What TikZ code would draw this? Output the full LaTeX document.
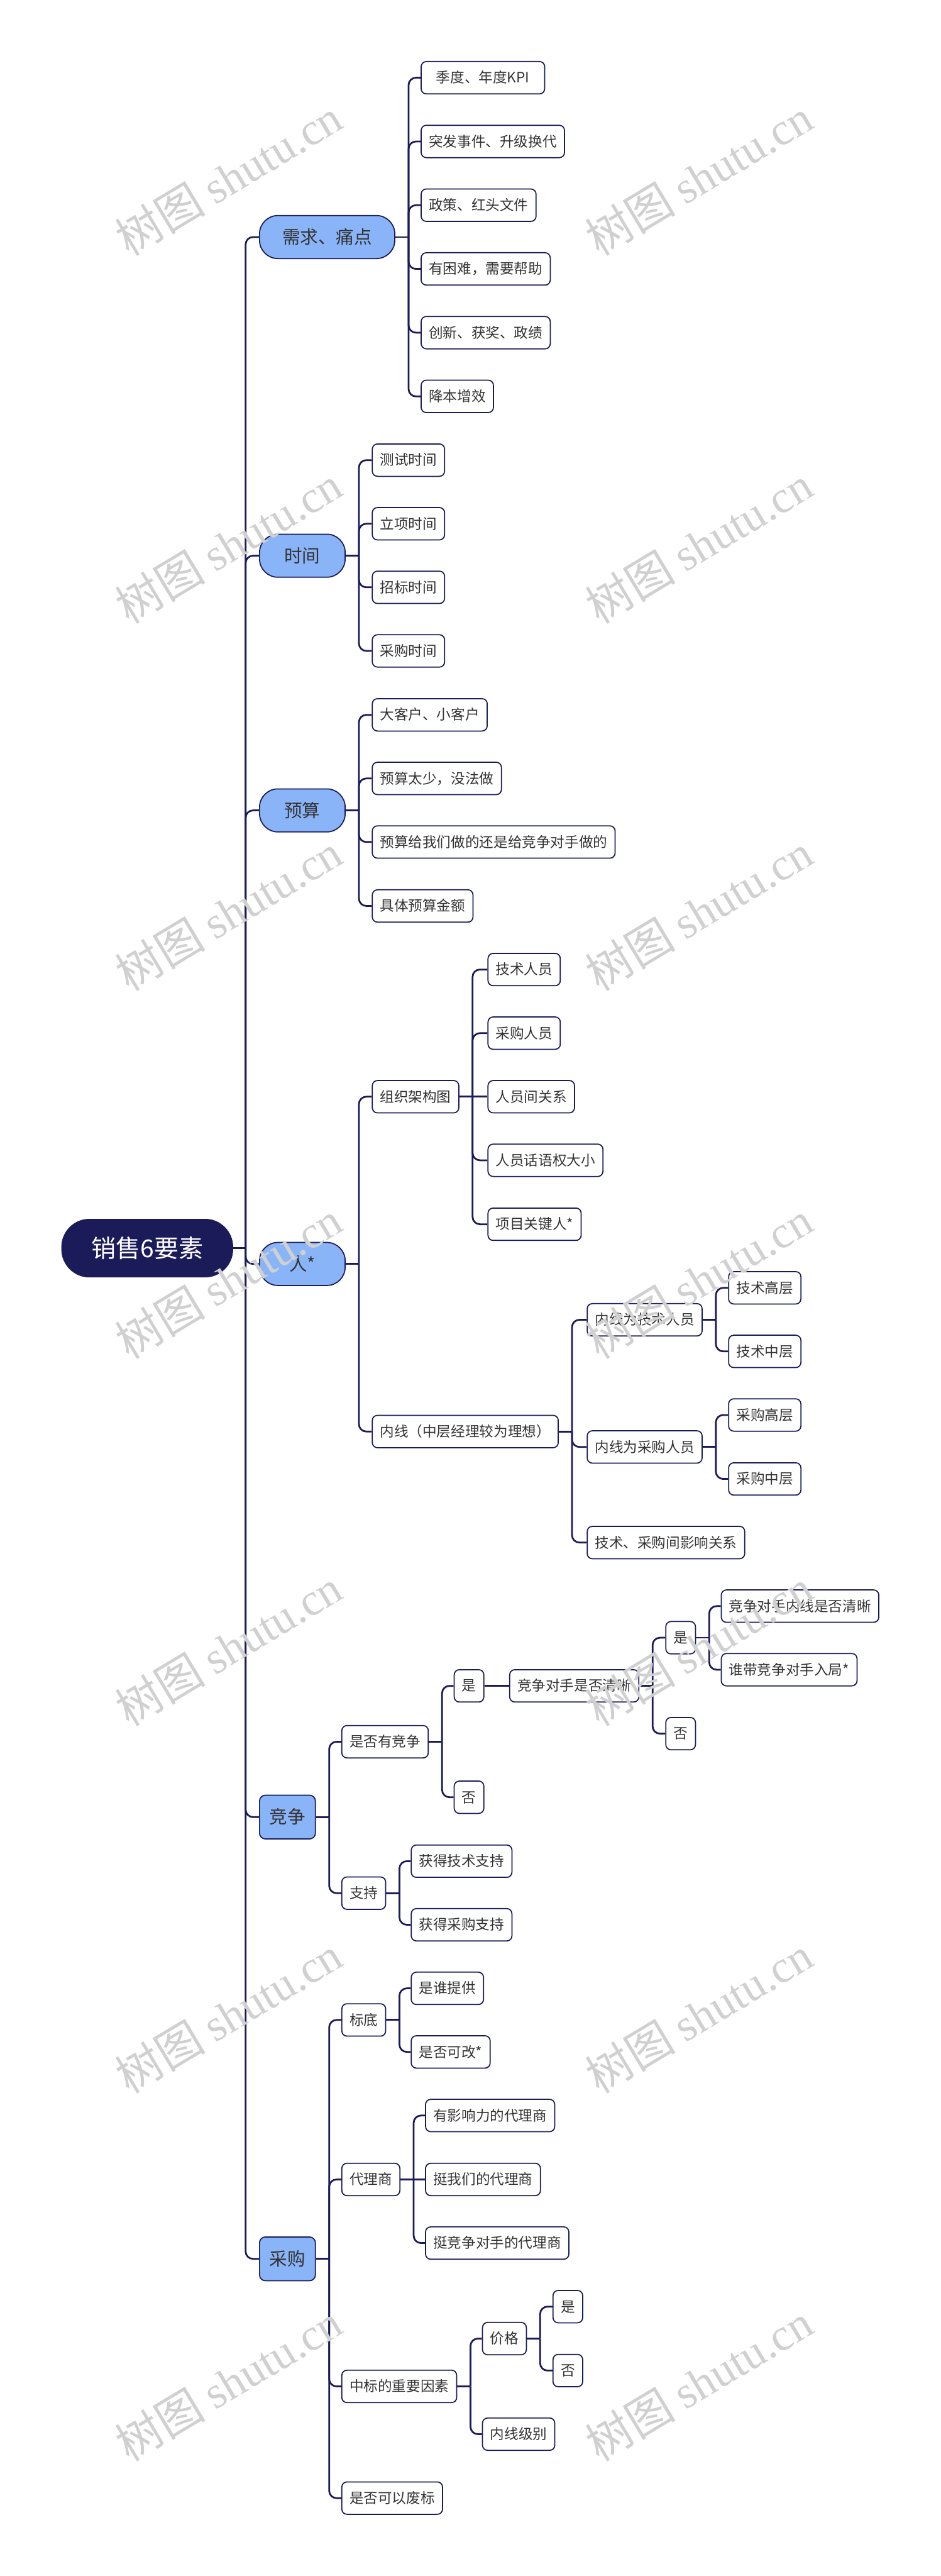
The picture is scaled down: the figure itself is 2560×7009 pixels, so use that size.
\documentclass[tikz,border=0pt]{standalone}
\usepackage{fontspec}
\setmainfont{Noto Sans CJK SC}
\newfontfamily\wmlatin{Liberation Serif}
\usetikzlibrary{calc}
\definecolor{navy}{RGB}{27,27,89}
\definecolor{lblue}{RGB}{138,180,248}
\definecolor{txt}{RGB}{51,51,51}
\definecolor{wm}{RGB}{208,208,208}
\tikzset{
  conn/.style={draw=navy, line width=1.34pt, rounded corners=0.2cm},
  basebox/.style={draw=navy, line width=0.85pt, text=txt, anchor=west, inner sep=0pt},
  leaf/.style={basebox, fill=white, rounded corners=0.14cm, minimum height=0.88cm,
    inner xsep=0.21cm, text height=9pt, text depth=0.9pt, font=\fontsize{11}{13}\selectfont},
  topic/.style={basebox, fill=lblue, rounded corners=0.5cm, minimum height=1.17cm,
    text height=11.4pt, text depth=1.1pt, font=\fontsize{13.9}{16}\selectfont},
  topicbox/.style={basebox, fill=lblue, rounded corners=0.16cm, minimum height=1.19cm,
    minimum width=1.52cm, text height=11.4pt, text depth=1.1pt, font=\fontsize{13.9}{16}\selectfont},
  rootnode/.style={fill=navy, draw=navy, text=white, rounded corners=0.76cm,
    minimum height=1.58cm, minimum width=4.66cm, anchor=west, inner sep=0pt,
    text height=15.6pt, text depth=1.5pt, font=\fontsize{19}{22}\selectfont},
  wmark/.style={text=wm, anchor=base west, rotate=31, inner sep=0pt, font=\fontsize{35}{40}\selectfont},
}
\newcommand\branch[2]{%
  \draw[conn] (#1.east) -- ++(36,0) coordinate (#1j);
  \foreach \c in {#2} {\draw[conn] (#1j) |- (\c.west);}
}
\begin{document}
\begin{tikzpicture}[x=0.01cm, y=-0.01cm]
\fill[white] (0,0) rectangle (2560,7009);
\useasboundingbox (0,0) rectangle (2560,7009);

% root
\node[rootnode] (root) at (167,3396) {销售6要素};

% main topics
\node[topic, minimum width=3.68cm] (xq) at (705,645) {需求、痛点};
\node[topic, minimum width=2.33cm] (sj) at (705,1512) {时间};
\node[topic, minimum width=2.33cm] (ys) at (705,2205) {预算};
\node[topic, minimum width=2.33cm] (ren) at (705,3439) {人*};
\node[topicbox] (jz) at (705,4944) {竞争};
\node[topicbox] (cg) at (705,6146) {采购};

% 需求、痛点
\node[leaf, minimum width=3.36cm] (xq1) at (1145,211.5) {季度、年度KPI};
\node[leaf] (xq2) at (1145,384.9) {突发事件、升级换代};
\node[leaf] (xq3) at (1145,558.3) {政策、红头文件};
\node[leaf] (xq4) at (1145,731.7) {有困难，需要帮助};
\node[leaf] (xq5) at (1145,905.1) {创新、获奖、政绩};
\node[leaf] (xq6) at (1145,1078.5) {降本增效};

% 时间
\node[leaf] (sj1) at (1012,1252) {测试时间};
\node[leaf] (sj2) at (1012,1425) {立项时间};
\node[leaf] (sj3) at (1012,1598) {招标时间};
\node[leaf] (sj4) at (1012,1771) {采购时间};

% 预算
\node[leaf] (ys1) at (1012,1945) {大客户、小客户};
\node[leaf] (ys2) at (1012,2118) {预算太少，没法做};
\node[leaf] (ys3) at (1012,2291) {预算给我们做的还是给竞争对手做的};
\node[leaf] (ys4) at (1012,2465) {具体预算金额};

% 人*
\node[leaf] (zz) at (1012,2984) {组织架构图};
\node[leaf] (zz1) at (1327,2638) {技术人员};
\node[leaf] (zz2) at (1327,2811) {采购人员};
\node[leaf] (zz3) at (1327,2984) {人员间关系};
\node[leaf] (zz4) at (1327,3157) {人员话语权大小};
\node[leaf] (zz5) at (1327,3331) {项目关键人*};
\node[leaf] (nx) at (1012,3895) {内线（中层经理较为理想）};
\node[leaf] (nx1) at (1597,3591) {内线为技术人员};
\node[leaf] (nx2) at (1597,3937) {内线为采购人员};
\node[leaf] (nx3) at (1597,4197) {技术、采购间影响关系};
\node[leaf] (nxa) at (1982,3504) {技术高层};
\node[leaf] (nxb) at (1982,3677) {技术中层};
\node[leaf] (nxc) at (1982,3850) {采购高层};
\node[leaf] (nxd) at (1982,4024) {采购中层};

% 竞争
\node[leaf] (yj) at (929,4739) {是否有竞争};
\node[leaf] (yja) at (1235,4587) {是};
\node[leaf] (yjb) at (1235,4890) {否};
\node[leaf] (qx) at (1386,4587) {竞争对手是否清晰};
\node[leaf] (qxa) at (1811,4456) {是};
\node[leaf] (qxb) at (1811,4717) {否};
\node[leaf] (qxc) at (1962,4370) {竞争对手内线是否清晰};
\node[leaf] (qxd) at (1962,4543) {谁带竞争对手入局*};
\node[leaf] (zc) at (929,5151) {支持};
\node[leaf] (zca) at (1118,5064) {获得技术支持};
\node[leaf] (zcb) at (1118,5237) {获得采购支持};

% 采购
\node[leaf] (bd) at (929,5496) {标底};
\node[leaf] (bda) at (1118,5410) {是谁提供};
\node[leaf] (bdb) at (1118,5583) {是否可改*};
\node[leaf] (dl) at (929,5930) {代理商};
\node[leaf] (dla) at (1157,5756) {有影响力的代理商};
\node[leaf] (dlb) at (1157,5930) {挺我们的代理商};
\node[leaf] (dlc) at (1157,6103) {挺竞争对手的代理商};
\node[leaf] (zb) at (929,6493) {中标的重要因素};
\node[leaf] (jg) at (1312,6363) {价格};
\node[leaf] (jga) at (1504,6276) {是};
\node[leaf] (jgb) at (1504,6450) {否};
\node[leaf] (nj) at (1312,6623) {内线级别};
\node[leaf] (fb) at (929,6797) {是否可以废标};

% connectors
\draw[conn] (root.east) -- ++(34,0) coordinate (rootj);
\foreach \c in {xq,sj,ys,ren,jz,cg} {\draw[conn] (rootj) |- (\c.west);}

\branch{xq}{xq1,xq2,xq3,xq4,xq5,xq6}
\branch{sj}{sj1,sj2,sj3,sj4}
\branch{ys}{ys1,ys2,ys3,ys4}
\branch{ren}{zz,nx}
\branch{zz}{zz1,zz2,zz4,zz5}
\draw[conn] (zzj) -- (zz3.west);
\branch{nx}{nx1,nx2,nx3}
\branch{nx1}{nxa,nxb}
\branch{nx2}{nxc,nxd}
\branch{jz}{yj,zc}
\branch{yj}{yja,yjb}
\draw[conn] (yja.east) -- (qx.west);
\branch{qx}{qxa,qxb}
\branch{qxa}{qxc,qxd}
\branch{zc}{zca,zcb}
\branch{cg}{bd,dl,zb,fb}
\branch{bd}{bda,bdb}
\branch{dl}{dla,dlc}
\draw[conn] (dlj) -- (dlb.west);
\branch{zb}{jg,nj}
\branch{jg}{jga,jgb}

% watermarks
\foreach \k in {0,...,6} {
  \node[wmark] (wl\k) at (351,700+1000*\k) {树图 {\wmlatin shutu.cn}};
  \node[wmark] (wr\k) at (1631,700+1000*\k) {树图 {\wmlatin shutu.cn}};
}
\end{tikzpicture}
\end{document}
